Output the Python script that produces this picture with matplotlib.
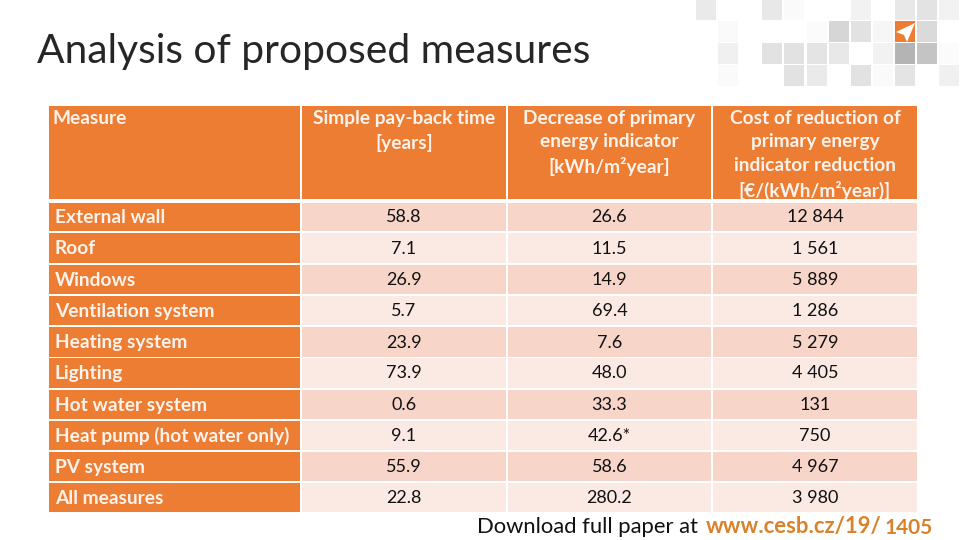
import matplotlib
matplotlib.use('Agg')
import matplotlib.pyplot as plt
from matplotlib.patches import Rectangle, Polygon

plt.rcParams['font.family'] = ['Lato', 'DejaVu Sans']

headers = ['Measure', 'Simple pay-back time\n[years]',
           'Decrease of primary\nenergy indicator\n[kWh/m²year]',
           'Cost of reduction of\nprimary energy\nindicator reduction\n[€/(kWh/m²year)]']
measures = ['External wall', 'Roof', 'Windows', 'Ventilation system', 'Heating system',
            'Lighting', 'Hot water system', 'Heat pump (hot water only)', 'PV system', 'All measures']
payback = ['58.8', '7.1', '26.9', '5.7', '23.9', '73.9', '0.6', '9.1', '55.9', '22.8']
decrease = ['26.6', '11.5', '14.9', '69.4', '7.6', '48.0', '33.3', '42.6*', '58.6', '280.2']
cost = ['12 844', '1 561', '5 889', '1 286', '5 279', '4 405', '131', '750', '4 967', '3 980']

orange = '#ec7d32'
band1 = '#f8d5c9'
band2 = '#fbe9e4'

# grey squares top right, grey level per cell (None = empty)
squares = [
    ['#eaeaea', None, None, '#e8e8e8', '#fafafa', None, None, '#f2f2f2', None, '#e8e8e8', '#e3e3e3', '#f2f2f2'],
    [None, '#fafafa', None, None, None, '#fbfbfb', '#d6d6d6', '#e2e2e2', '#f6f6f6', orange, '#dadada', None],
    [None, '#f0f0f0', None, '#e2e2e2', '#e2e2e2', '#e4e4e4', '#e8e8e8', None, '#f2f2f2', '#b4b4b4', '#c4c4c4', '#fbfbfb'],
    [None, '#fafafa', None, None, '#e2e2e2', '#eaeaea', None, '#e2e2e2', '#fafafa', '#e4e4e4', None, '#f0f0f0'],
]

col_edges = [(49, 300), (302, 506), (508, 711), (713, 917)]
row_edges = [(203, 231), (233, 263), (265, 294), (296, 325), (327, 357),
             (358, 388), (390, 419), (421, 450), (452, 481), (483, 512)]
header_top, header_bottom = 106, 199

fig = plt.figure(figsize=(9.6, 5.4), dpi=100)
ax = fig.add_axes([0, 0, 1, 1])
ax.set_xlim(0, 960)
ax.set_ylim(540, 0)
ax.axis('off')

for r, line in enumerate(squares):
    for c, col in enumerate(line):
        if col is not None:
            ax.add_patch(Rectangle((696 + c * 22.1, -1 + r * 22.1), 20, 21, color=col, lw=0))
ax.add_patch(Polygon([(915, 23), (896, 32), (904, 35), (907, 42)], color='white', lw=0))

ax.text(37, 51, 'Analysis of proposed measures', fontsize=29.3, color='#262626', va='center', ha='left')

for c, (x0, x1) in enumerate(col_edges):
    ax.add_patch(Rectangle((x0, header_top), x1 - x0, header_bottom - header_top, color=orange, lw=0))
    if c == 0:
        ax.text(x0 + 4, 118, headers[c], fontsize=13.8, fontweight='bold', color='#fdf3ec', va='center', ha='left')
    else:
        ax.text((x0 + x1) / 2, 110, headers[c], fontsize=13.8, fontweight='bold', color='#fdf3ec',
                va='top', ha='center', linespacing=1.45)

for i, (y0, y1) in enumerate(row_edges):
    ym = (y0 + y1) / 2 + 0.5
    fill = band1 if i % 2 == 0 else band2
    ax.add_patch(Rectangle((col_edges[0][0], y0), col_edges[0][1] - col_edges[0][0], y1 - y0, color=orange, lw=0))
    ax.text(55, ym, measures[i], fontsize=13.8, fontweight='bold', color='#fdf3ec', va='center', ha='left')
    for (x0, x1), vals in zip(col_edges[1:], [payback, decrease, cost]):
        ax.add_patch(Rectangle((x0, y0), x1 - x0, y1 - y0, color=fill, lw=0))
        ax.text((x0 + x1) / 2, ym, vals[i], fontsize=13, color='#111111', va='center', ha='center')

ax.text(477, 527, 'Download full paper at', fontsize=15.8, color='#111111', va='center', ha='left')
ax.text(706, 527, 'www.cesb.cz/19/', fontsize=15.9, fontweight='bold', color='#d9822b', va='center', ha='left')
ax.text(885, 528, '1405', fontsize=15, fontweight='bold', color='#d9822b', va='center', ha='left')

fig.savefig('out.png', dpi=100)
